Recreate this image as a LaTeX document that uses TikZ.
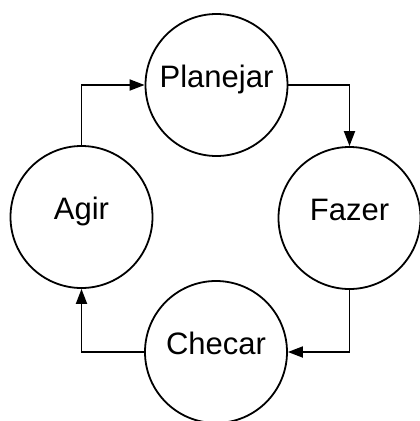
\documentclass[tikz,border=0pt]{standalone}
\usepackage{fontspec}
\setmainfont{Liberation Sans}
\usetikzlibrary{arrows.meta}
\begin{document}
\begin{tikzpicture}[x=1pt,y=1pt,
  stage/.style={circle,draw,line width=1.8pt,minimum size=142pt,inner sep=0pt,
    text height=0.72em,text depth=0.3em,font=\fontsize{31}{37}\selectfont},
  arr/.style={line width=1.8pt,-{Triangle[length=15pt,width=11pt]}}]
\useasboundingbox (0,0) rectangle (420,-421);
\clip (0,0) rectangle (420,-421);
\node[stage] (plan) at (216.5,-85) {Planejar};
\node[stage] (faz) at (349.5,-218) {Fazer};
\node[stage] (agir) at (81.5,-217) {Agir};
\node[stage] (chec) at (216,-352) {Checar};
\draw[arr] (agir.north) |- (plan.west);
\draw[arr] (plan.east) -| (faz.north);
\draw[arr] (faz.south) |- (chec.east);
\draw[arr] (chec.west) -| (agir.south);
\end{tikzpicture}
\end{document}
